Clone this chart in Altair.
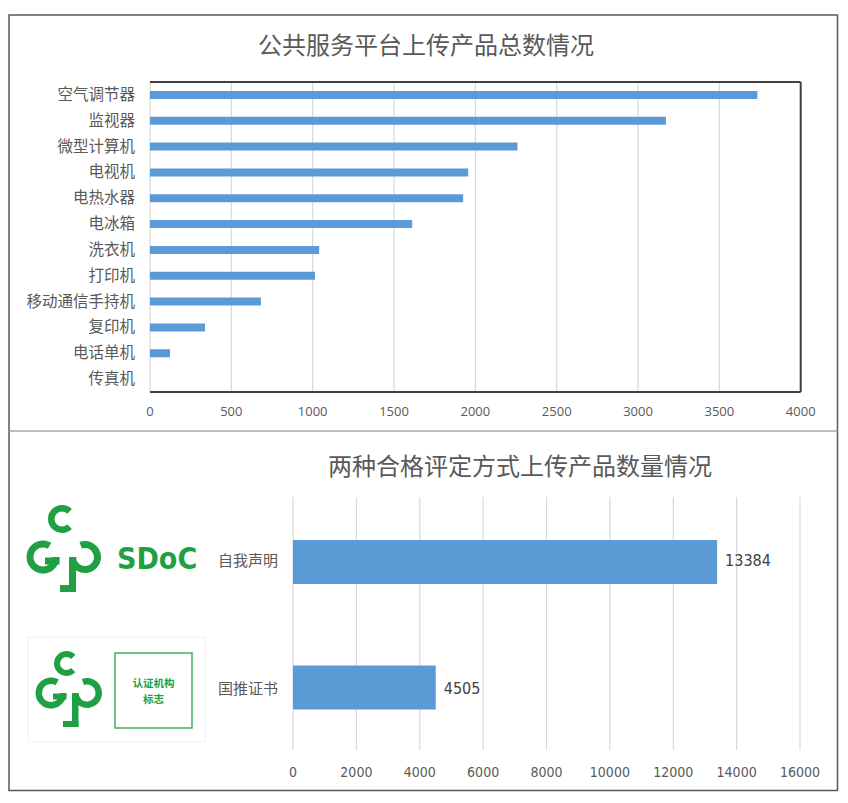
import altair as alt
import pandas as pd

# ---------------- data ----------------
cats1 = ['空气调节器', '监视器', '微型计算机', '电视机', '电热水器', '电冰箱',
         '洗衣机', '打印机', '移动通信手持机', '复印机', '电话单机', '传真机']
vals1 = [3734, 3172, 2259, 1956, 1925, 1612, 1040, 1014, 682, 338, 123, 0]
ticks1 = [0, 500, 1000, 1500, 2000, 2500, 3000, 3500, 4000]

cats2 = ['自我声明', '国推证书']
vals2 = [13384, 4505]
ticks2 = [0, 2000, 4000, 6000, 8000, 10000, 12000, 14000, 16000]

title1 = '公共服务平台上传产品总数情况'
title2 = '两种合格评定方式上传产品数量情况'
logo_text1 = 'SDoC'
logo_text2 = ['认证机构', '标志']

# ---------------- style ----------------
BAR = '#5b9bd5'
GRID = '#d9d9d9'
TXT = '#595959'
GREEN = '#1fa043'
CJK = 'Noto Sans CJK SC'
NUM = 'Open Sans'
NARROW = "'Liberation Sans Narrow', 'DejaVu Sans Condensed', sans-serif"

df1 = pd.DataFrame({'cat': cats1, 'val': vals1})
t1 = pd.DataFrame({'tick': ticks1, 'label': [str(t) for t in ticks1]})
df2 = pd.DataFrame({'cat': cats2, 'val': vals2, 'label': [str(v) for v in vals2]})
t2 = pd.DataFrame({'tick': ticks2, 'label': [str(t) for t in ticks2]})
one = pd.DataFrame({'d': [0]})

X1 = alt.Scale(domain=[0, 4000], range=[142, 792.7])
Y1 = alt.Scale(domain=cats1, range=[74, 384], paddingInner=0.69, paddingOuter=0.345)
X2 = alt.Scale(domain=[0, 16000], range=[285, 792])
Y2 = alt.Scale(domain=cats2, range=[489, 744.5], paddingInner=0.65, paddingOuter=0.343)


def box(x0, x1, y0, y1, fill='transparent', stroke='#595959', sw=1.5):
    return alt.Chart(one).mark_rect(fill=fill, stroke=stroke, strokeWidth=sw).encode(
        x=alt.value(x0), x2=alt.value(x1), y=alt.value(y0), y2=alt.value(y1))


def solid(x0, x1, y0, y1, color=GREEN):
    return alt.Chart(one).mark_rect(color=color).encode(
        x=alt.value(x0), x2=alt.value(x1), y=alt.value(y0), y2=alt.value(y1))


def hline(x0, x1, y, color, sw):
    return alt.Chart(one).mark_rule(color=color, strokeWidth=sw).encode(
        x=alt.value(x0), x2=alt.value(x1), y=alt.value(y))


def vline(x, y0, y1, color, sw):
    return alt.Chart(one).mark_rule(color=color, strokeWidth=sw).encode(
        x=alt.value(x), y=alt.value(y0), y2=alt.value(y1))


def arc(cx, cy, ro, ri, a0, a1):
    return alt.Chart(one).mark_arc(x=cx, y=cy, radius=ro, radius2=ri,
                                   theta=a0, theta2=a1, color=GREEN).encode(
        opacity=alt.value(1))


def label(x, y, text, size, color=TXT, font=CJK, align='center', weight='normal'):
    return alt.Chart(one).mark_text(text=text, align=align, baseline='middle', font=font,
                                    fontSize=size, color=color, fontWeight=weight).encode(
        x=alt.value(x), y=alt.value(y))


layers = []
# outer frame and divider
layers.append(box(1, 829.5, 7, 782.5, fill='white', stroke='#595959', sw=1.5))
layers.append(hline(1, 829.5, 423, '#a6a6a6', 1.5))

# ---------------- top chart ----------------
layers.append(label(418, 38.5, title1, 24))
layers.append(alt.Chart(t1[t1.tick < 4000]).mark_rule(color=GRID, strokeWidth=1.2).encode(
    x=alt.X('tick:Q', scale=X1, axis=None), y=alt.value(74), y2=alt.value(384)))
layers.append(alt.Chart(df1).mark_bar(color=BAR).encode(
    x=alt.X('val:Q', scale=X1, axis=None),
    y=alt.Y('cat:N', scale=Y1, axis=None)))
layers.append(hline(142, 792.7, 74, '#404040', 2))
layers.append(hline(142, 792.7, 384, '#404040', 2))
layers.append(vline(792.7, 74, 384, '#404040', 2))
layers.append(alt.Chart(df1).mark_text(align='right', baseline='middle', font=CJK,
                                       fontSize=15.5, color=TXT).encode(
    y=alt.Y('cat:N', scale=Y1, axis=None), x=alt.value(127), text='cat:N'))
layers.append(alt.Chart(t1).mark_text(align='center', baseline='middle', font=NUM,
                                      fontSize=13, color=TXT).encode(
    x=alt.X('tick:Q', scale=X1, axis=None), y=alt.value(403.5), text='label:N'))

# ---------------- bottom chart ----------------
layers.append(label(512, 460, title2, 24))
layers.append(alt.Chart(t2).mark_rule(color=GRID, strokeWidth=1.2).encode(
    x=alt.X('tick:Q', scale=X2, axis=None), y=alt.value(489), y2=alt.value(742)))
layers.append(alt.Chart(df2).mark_bar(color=BAR).encode(
    x=alt.X('val:Q', scale=X2, axis=None),
    y=alt.Y('cat:N', scale=Y2, axis=None)))
layers.append(alt.Chart(df2).mark_text(align='left', baseline='middle', font=NARROW,
                                       fontSize=16, color='#404040', dx=8).encode(
    x=alt.X('val:Q', scale=X2, axis=None),
    y=alt.Y('cat:N', scale=Y2, axis=None), text='label:N'))
layers.append(alt.Chart(df2).mark_text(align='right', baseline='middle', font=CJK,
                                       fontSize=15, color=TXT).encode(
    y=alt.Y('cat:N', scale=Y2, axis=None), x=alt.value(270), text='cat:N'))
layers.append(alt.Chart(t2).mark_text(align='center', baseline='middle', font=NARROW,
                                      fontSize=14, color=TXT).encode(
    x=alt.X('tick:Q', scale=X2, axis=None), y=alt.value(765), text='label:N'))

# ---------------- logo 1 (SDoC) ----------------
layers.append(arc(54, 511, 14, 7.5, 2.36, 7.07))
layers.append(arc(35, 549, 16.5, 9.5, 1.57, 6.81))
layers.append(solid(37, 51.5, 549.5, 556.5))
layers.append(arc(77, 549, 16, 9, 5.93, 10.99))
layers.append(solid(61, 68, 549, 584))
layers.append(solid(52, 68, 577, 584))
layers.append(label(109, 551.5, logo_text1, 30, color=GREEN,
                    font='DejaVu Sans Condensed', align='left', weight='bold'))

# ---------------- logo 2 (certification body) ----------------
layers.append(box(20, 197, 629, 734, fill='white', stroke='#f0f0f0', sw=1))
layers.append(arc(58.5, 655.5, 12.5, 6.5, 2.36, 7.07))
layers.append(arc(43, 685, 15.5, 9, 1.57, 6.81))
layers.append(solid(45, 58.5, 685.5, 691.5))
layers.append(arc(79, 685, 15, 8.5, 5.93, 10.99))
layers.append(solid(64, 70.5, 685, 719))
layers.append(solid(55, 70.5, 713, 719))
layers.append(box(107, 184, 645, 720, fill='transparent', stroke='#3fb062', sw=1.5))
layers.append(label(145.5, 676, logo_text2[0], 10.5, color=GREEN, weight='bold'))
layers.append(label(145.5, 692, logo_text2[1], 10.5, color=GREEN, weight='bold'))

chart = alt.layer(*layers).resolve_scale(x='independent', y='independent').properties(
    width=832, height=787, autosize=alt.AutoSizeParams(type='none'), padding=0
).configure_view(stroke=None)

chart.save('out.html', embed_options={'renderer': 'svg', 'actions': False})
